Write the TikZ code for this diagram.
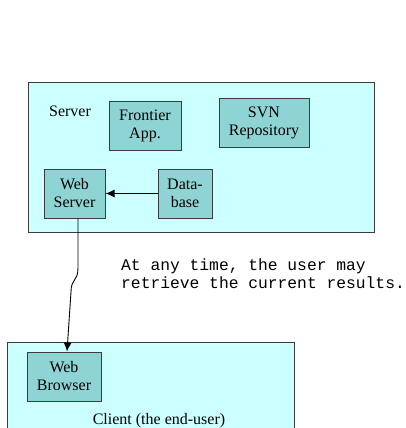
\documentclass[tikz,border=0pt]{standalone}
\usepackage{fontspec}
\setmainfont{Liberation Serif}
\newfontfamily\codefont{Liberation Mono}
\usetikzlibrary{arrows.meta}
\definecolor{panelfill}{RGB}{204,255,255}
\definecolor{unitfill}{RGB}{143,212,212}
\definecolor{edgegray}{RGB}{60,60,60}
\tikzset{
  panel/.style={draw=edgegray, line width=1pt, fill=panelfill},
  unit/.style={draw=edgegray, line width=1pt, fill=unitfill, align=center,
    font=\fontsize{16}{18}\selectfont, inner sep=0pt},
  plain/.style={font=\fontsize{16}{18}\selectfont, inner sep=0pt},
  link/.style={draw=black, line width=0.9pt, -{Latex[length=9pt,width=8pt]}},
}
\begin{document}
\begin{tikzpicture}[x=1pt,y=-1pt]
\useasboundingbox (0,0) rectangle (406,428);
\clip (0,0) rectangle (406,428);

% server panel
\draw[panel] (28,82) rectangle (374,232);
\node[plain] (srv) at (70,111) {Server};
\node[unit, minimum width=72pt, minimum height=49pt] (fa) at (145,125.5) {Frontier\\App.};
\node[unit, minimum width=90pt, minimum height=49pt] (svn) at (264,122.5) {SVN\\Repository};
\node[unit, minimum width=61pt, minimum height=49pt] (ws) at (74.5,193.5) {Web\\Server};
\node[unit, minimum width=54pt, minimum height=49pt] (db) at (185,193.5) {Data-\\base};
\draw[link] (db.west) -- (ws.east);

% client panel
\draw[panel] (7,342) rectangle (294,450);
\node[unit, minimum width=74pt, minimum height=49pt] (wb) at (64,376.5) {Web\\Browser};
\node[plain] (cl) at (159,421) {Client (the end-user)};

% note
\node[anchor=west, align=left, inner sep=0pt, font=\codefont\fontsize{16.3}{18}\selectfont] (note) at (121,274)
  {At any time, the user may\\retrieve the current results.};

% download path
\coordinate (bend1) at (78,268);
\coordinate (bend2) at (71,292);
\draw[link] ([xshift=3.5pt]ws.south) -- (bend1) .. controls (78,282) and (71,278) .. (bend2) -- ([xshift=3pt]wb.north);
\end{tikzpicture}
\end{document}
